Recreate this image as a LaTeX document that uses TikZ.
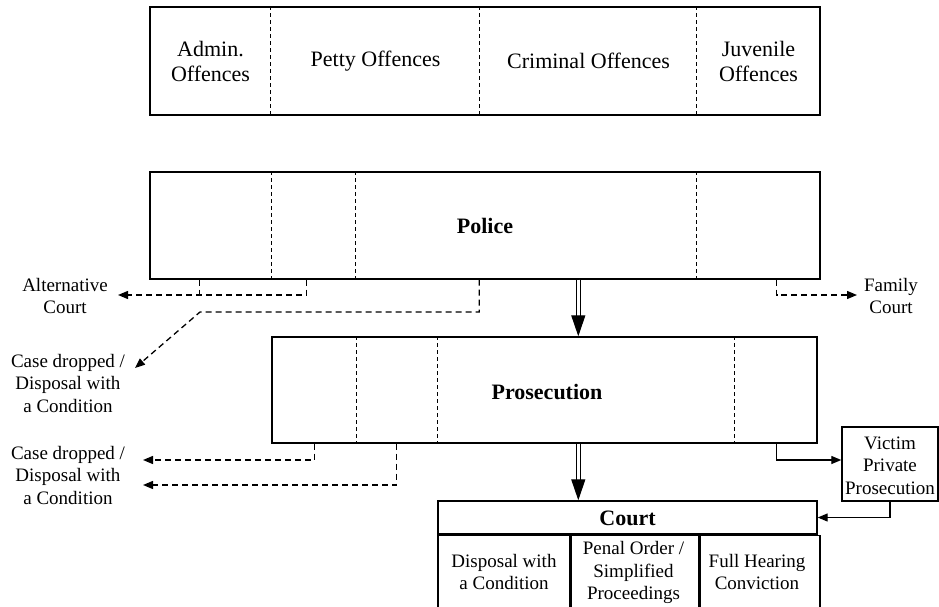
\documentclass[tikz,border=0pt]{standalone}
\usepackage{fontspec}
\setmainfont{Liberation Serif}
\usetikzlibrary{arrows.meta,calc}
\begin{document}
\begin{tikzpicture}[x=1pt,y=-1pt,
  box/.style={draw, line width=1.4pt, inner sep=0pt, align=center},
  txt/.style={align=center, inner sep=0pt, font=\fontsize{19}{22.5}\selectfont},
  bigtxt/.style={align=center, inner sep=0pt, font=\fontsize{22}{25}\selectfont},
  boldtxt/.style={font=\fontsize{22}{25}\selectfont\bfseries},
  divider/.style={line width=1.1pt, dash pattern=on 4pt off 3pt},
  dconn/.style={line width=1.3pt, dash pattern=on 6pt off 4pt, -{Triangle[length=10pt,width=8pt]}},
  dline/.style={line width=1.3pt, dash pattern=on 6pt off 4pt},
  sconn/.style={line width=1.3pt, -{Triangle[length=10pt,width=8pt]}},
  dbl/.style={double, line width=1.2pt, double distance=2.5pt, -{Triangle[length=21pt,width=14pt]}}
]
\clip (0,0) rectangle (939,607);
\fill[white] (0,0) rectangle (939,607);

% Offences box
\node[box, minimum width=670pt, minimum height=108pt] (off) at (485,61) {};
\foreach \dx in {121,330,547}
  \draw[divider] ($(off.north west)+(\dx,0)$) -- ($(off.south west)+(\dx,0)$);
\node[bigtxt] (t1) at (210.5,61) {Admin.\\Offences};
\node[bigtxt] (t2) at (375.5,61) {Petty Offences};
\node[bigtxt] (t3) at (588.5,61) {Criminal Offences};
\node[bigtxt] (t4) at (758.5,61) {Juvenile\\Offences};

% Police
\node[box, minimum width=670pt, minimum height=107pt] (police) at (485,225.5) {};
\foreach \dx in {122,206,547}
  \draw[divider] ($(police.north west)+(\dx,0)$) -- ($(police.south west)+(\dx,0)$);
\node[boldtxt] (ptext) at (485,226) {Police};

% Prosecution
\node[box, minimum width=545pt, minimum height=106pt] (pros) at (544.5,390) {};
\foreach \dx in {85,166,463}
  \draw[divider] ($(pros.north west)+(\dx,0)$) -- ($(pros.south west)+(\dx,0)$);
\node[boldtxt] (prtext) at (547,392) {Prosecution};

% Court
\node[box, minimum width=379pt, minimum height=33pt] (court) at (627.5,517.5) {};
\node[boldtxt] (ctext) at (627.5,518) {Court};
\node[box, anchor=north west, minimum width=132pt, minimum height=90pt] (c1) at (court.south west) {};
\node[box, anchor=north west, minimum width=127pt, minimum height=90pt] (c2) at (c1.north east) {};
\node[box, anchor=north west, minimum width=120pt, minimum height=90pt] (c3) at (c2.north east) {};
\node[txt] (c1t) at (504,572) {Disposal with\\a Condition};
\node[txt] (c2t) at (633.5,572.5) {Penal Order /\\Simplified\\Proceedings};
\node[txt] (c3t) at (757,572) {Full Hearing\\Conviction};

% Victim
\node[box, minimum width=96pt, minimum height=74pt] (victim) at (890,464) {};
\node[txt] (vt) at (890,465.5) {Victim\\Private\\Prosecution};

% Side labels
\node[txt] (alt) at (65,296) {Alternative\\Court};
\node[txt] (fam) at (891,296) {Family\\Court};
\node[txt] (case1) at (68,383) {Case dropped /\\Disposal with\\a Condition};
\node[txt] (case2) at (68,475) {Case dropped /\\Disposal with\\a Condition};

\coordinate (altend) at (118,295);
\coordinate (famend) at (857,295);
\coordinate (bend) at (200,312);
\coordinate (case1end) at (135,368);
\coordinate (case2a) at (143,460);
\coordinate (case2b) at (143,485);

% Main double arrows
\draw[dbl] ($(police.south west)+(429,0)$) -- ($(pros.north west)+(307,0)$);
\draw[dbl] ($(pros.south west)+(307,0)$) -- ($(court.north west)+(141,0)$);

% Police exits
\draw[dline] ($(police.south west)+(50,0)$) -- ($(police.south west)+(50,16)$);
\draw[dconn] ($(police.south west)+(157,0)$) |- (altend);
\draw[dconn] ($(police.south east)+(-44,0)$) |- (famend);
\draw[dconn] ($(police.south west)+(330,0)$) |- (bend) -- (case1end);

% Prosecution exits
\draw[dconn] ($(pros.south west)+(43,0)$) |- (case2a);
\draw[dconn] ($(pros.south west)+(125,0)$) |- (case2b);
\draw[sconn] ($(pros.south east)+(-41,0)$) |- ([yshift=4pt]victim.west);
\draw[sconn] (victim.south) |- (court.east);
\end{tikzpicture}
\end{document}
